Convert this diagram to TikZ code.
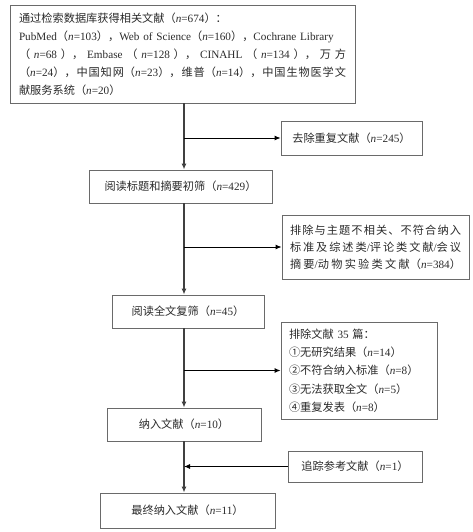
\documentclass[tikz,border=0pt]{standalone}
\usepackage{fontspec}
\setmainfont{Liberation Serif}
\newfontfamily\zhf{Noto Sans CJK SC}
\usetikzlibrary{arrows.meta}
\XeTeXinterchartokenstate=1
\newXeTeXintercharclass\cjkcls
\newcount\cjkc
\cjkc="4E00
\loop \XeTeXcharclass\cjkc=\cjkcls \advance\cjkc by 1 \ifnum\cjkc<"A000 \repeat
\cjkc="3000
\loop \XeTeXcharclass\cjkc=\cjkcls \advance\cjkc by 1 \ifnum\cjkc<"3040 \repeat
\cjkc="FF00
\loop \XeTeXcharclass\cjkc=\cjkcls \advance\cjkc by 1 \ifnum\cjkc<"FFF0 \repeat
\XeTeXinterchartoks\cjkcls\cjkcls={\hskip 0pt plus 1pt\relax}
\newcommand\zh[1]{{\zhf #1}}
\newcommand\nv[1]{\zh{（}\textit{n}=#1\zh{）}}
\definecolor{boxgray}{HTML}{6A6A6A}
\definecolor{txt}{HTML}{2A2A2A}
\definecolor{spine}{HTML}{404040}
\tikzset{
  box/.style={draw=boxgray, line width=0.9pt, inner sep=0pt, align=center, text=txt,
    font=\fontsize{11.2}{18}\selectfont},
  lbox/.style={box, align=left},
  spinearrow/.style={draw=spine, line width=1.6pt, -{Latex[length=6pt,width=5pt]}},
  sidearrow/.style={draw=black, line width=0.9pt, -{Latex[length=6pt,width=5pt]}}
}
\begin{document}
\begin{tikzpicture}[x=1pt,y=-1pt]
\useasboundingbox (0,0) rectangle (473,532);
\node[lbox, minimum width=345pt, minimum height=98pt, text width=327pt] (b1) at (182.5,54)
{\zh{通过检索数据库获得相关文献（}\textit{n}=674\zh{）：}\\
\makebox[\linewidth][s]{PubMed\nv{103}\zh{，}Web of Science\nv{160}\zh{，}Cochrane Library}\\
\makebox[\linewidth][s]{\zh{（} \textit{n}=68 \zh{），} Embase \zh{（} \textit{n}=128 \zh{），} CINAHL \zh{（} \textit{n}=134 \zh{），} \zh{万} \zh{方}}\\
\makebox[\linewidth][s]{\nv{24}\zh{，中国知网}\nv{23}\zh{，维普}\nv{14}\zh{，中国生物医学文}}\\
\zh{献服务系统}\nv{20}};
\node[box, minimum width=141pt, minimum height=34pt] (dup) at (351.5,138) {\zh{去除重复文献}\nv{245}};
\node[box, minimum width=183pt, minimum height=33pt] (s1) at (180.5,186.5) {\zh{阅读标题和摘要初筛}\nv{429}};
\node[lbox, minimum width=187pt, minimum height=64pt, text width=171pt,
  font=\fontsize{11.2}{17}\selectfont] (ex1) at (375.5,247)
{\makebox[\linewidth][s]{\zh{排除与主题不相关、不符合纳入}}\\
\makebox[\linewidth][s]{\zh{标准及综述类}/\zh{评论类文献}/\zh{会议}}\\
\makebox[\linewidth][s]{\zh{摘要}/\zh{动物实验类文献}\nv{384}}};
\node[box, minimum width=152pt, minimum height=33pt] (s2) at (188,311.5) {\zh{阅读全文复筛}\nv{45}};
\node[lbox, minimum width=156pt, minimum height=97pt, text width=140pt,
  font=\fontsize{11.2}{18.3}\selectfont] (ex2) at (359,370.5)
{\zh{排除文献} 35 \zh{篇：}\\
\zh{①无研究结果}\nv{14}\\
\zh{②不符合纳入标准}\nv{8}\\
\zh{③无法获取全文}\nv{5}\\
\zh{④重复发表}\nv{8}};
\node[box, minimum width=154pt, minimum height=33pt] (inc) at (184,424.5) {\zh{纳入文献}\nv{10}};
\node[box, minimum width=134pt, minimum height=31pt] (trk) at (355,466.5) {\zh{追踪参考文献}\nv{1}};
\node[box, minimum width=175pt, minimum height=35pt] (fin) at (187.5,510.5) {\zh{最终纳入文献}\nv{11}};
% spine
\draw[spinearrow] (b1.south -| inc) -- (s1.north -| inc);
\draw[spinearrow] (s1.south -| inc) -- (s2.north -| inc);
\draw[spinearrow] (s2.south -| inc) -- (inc.north);
\draw[spinearrow] (inc.south) -- (fin.north -| inc);
% side arrows
\draw[sidearrow] (dup.west -| inc) -- (dup.west);
\draw[sidearrow] (ex1.west -| inc) -- (ex1.west);
\draw[sidearrow] (ex2.west -| inc) -- (ex2.west);
\draw[sidearrow] (trk.west) -- (trk.west -| inc);
\end{tikzpicture}
\end{document}
